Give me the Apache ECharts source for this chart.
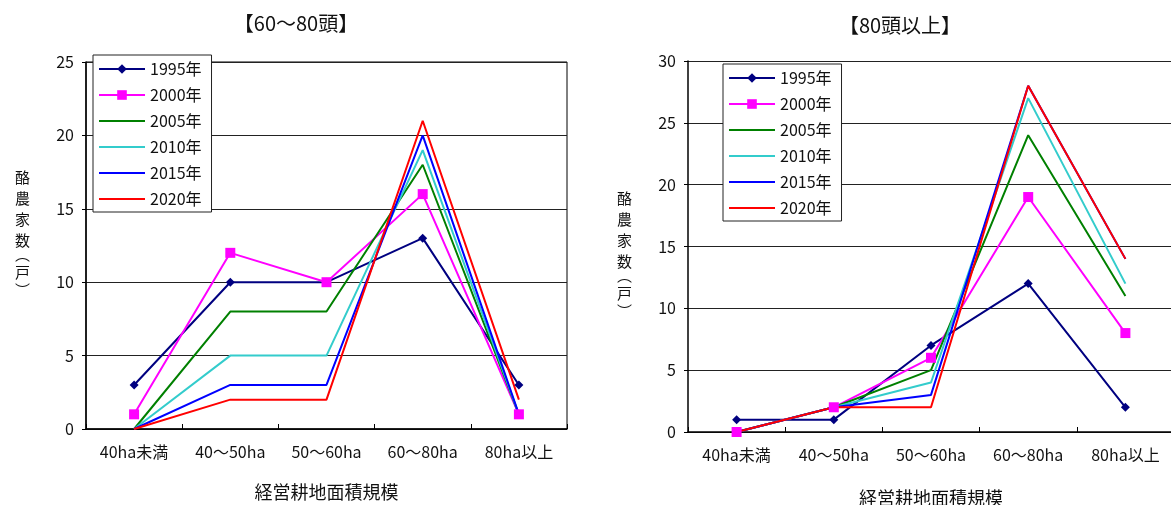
<!DOCTYPE html>
<html>
<head>
<meta charset="utf-8">
<script src="https://cdn.jsdelivr.net/npm/echarts@6/dist/echarts.min.js"></script>
<style>
  html, body { margin: 0; padding: 0; background: #fff; }
  #chart { width: 1171px; height: 505px; }
</style>
</head>
<body>
<div id="chart"></div>
<script>
// 経営耕地面積規模（横軸のカテゴリ）
const categories = ['40ha未満', '40～50ha', '50～60ha', '60～80ha', '80ha以上'];
const years = ['1995年', '2000年', '2005年', '2010年', '2015年', '2020年'];

// 【60～80頭】 酪農家数（戸）
const herd60_1995 = [3, 10, 10, 13, 3];
const herd60_2000 = [1, 12, 10, 16, 1];
const herd60_2005 = [0, 8, 8, 18, 1];
const herd60_2010 = [0, 5, 5, 19, 1];
const herd60_2015 = [0, 3, 3, 20, 1];
const herd60_2020 = [0, 2, 2, 21, 2];

// 【80頭以上】 酪農家数（戸）
const herd80_1995 = [1, 1, 7, 12, 2];
const herd80_2000 = [0, 2, 6, 19, 8];
const herd80_2005 = [0, 2, 5, 24, 11];
const herd80_2010 = [0, 2, 4, 27, 12];
const herd80_2015 = [0, 2, 3, 28, 14];
const herd80_2020 = [0, 2, 2, 28, 14];

const leftTicks = [0, 5, 10, 15, 20, 25];
const rightTicks = [0, 5, 10, 15, 20, 25, 30];

const FONT = '"Noto Sans CJK JP", "Noto Sans", sans-serif';
const colors = ['#000080', '#FF00FF', '#008000', '#33CCCC', '#0000FF', '#FF0000'];
const symbols = ['diamond', 'rect', 'none', 'none', 'none', 'none'];
const symbolSizes = [9, 10, 0, 0, 0, 0];

const leftData = [herd60_1995, herd60_2000, herd60_2005, herd60_2010, herd60_2015, herd60_2020];
const rightData = [herd80_1995, herd80_2000, herd80_2005, herd80_2010, herd80_2015, herd80_2020];

function makeSeries(dataSets, axisIndex) {
  return dataSets.map((d, i) => ({
    name: years[i],
    type: 'line',
    xAxisIndex: axisIndex,
    yAxisIndex: axisIndex,
    data: d,
    symbol: symbols[i],
    symbolSize: symbolSizes[i],
    showSymbol: symbols[i] !== 'none',
    lineStyle: { color: colors[i], width: 2 },
    itemStyle: { color: colors[i] },
    animation: false,
    emphasis: { disabled: true }
  }));
}

function xAxis(gridIndex, gap) {
  return {
    type: 'category',
    gridIndex: gridIndex,
    data: categories,
    boundaryGap: true,
    name: '経営耕地面積規模',
    nameLocation: 'middle',
    nameGap: gap,
    nameTextStyle: { fontFamily: FONT, fontSize: 18, color: '#111' },
    axisLine: { lineStyle: { color: '#000', width: 1.5 } },
    axisTick: { show: true, inside: true, length: 5, lineStyle: { color: '#000' } },
    axisLabel: { fontFamily: FONT, fontSize: 16, color: '#111', margin: 15 },
    splitLine: { show: false }
  };
}

// 縦書きの軸名（括弧は詰めて表示）
const yName = '{c|酪}\n{c|農}\n{c|家}\n{c|数}\n{p|︵}\n{c|戸}\n{q|︶}';

function yAxis(gridIndex, max, ticks, pad) {
  return {
    type: 'value',
    gridIndex: gridIndex,
    position: 'left',
    min: 0,
    max: max,
    interval: 5,
    name: yName,
    nameLocation: 'middle',
    nameRotate: 0,
    nameGap: 56,
    nameTextStyle: {
      fontFamily: FONT, fontSize: 15, color: '#111', padding: pad,
      rich: {
        c: { fontFamily: FONT, fontSize: 15, color: '#111', lineHeight: 21 },
        p: { fontFamily: FONT, fontSize: 15, color: '#111', lineHeight: 11, verticalAlign: 'bottom' },
        q: { fontFamily: FONT, fontSize: 15, color: '#111', lineHeight: 11, verticalAlign: 'top' }
      }
    },
    axisLine: { show: true, lineStyle: { color: '#000', width: 1.5 } },
    axisTick: { show: true, inside: false, length: 4, lineStyle: { color: '#000' } },
    axisLabel: {
      fontFamily: FONT, fontSize: 16, color: '#111', margin: 12,
      formatter: v => (ticks.indexOf(v) >= 0 ? String(v) : '')
    },
    splitLine: { show: true, lineStyle: { color: '#222', width: 1 } }
  };
}

// 凡例：マーカーのない系列は線のみ
const legendItems = years.map((y, i) => (
  symbols[i] === 'none' ? { name: y, itemStyle: { opacity: 0 } } : { name: y }
));

function legend(left, top) {
  return {
    data: legendItems,
    orient: 'vertical',
    left: left,
    top: top,
    padding: [6, 10, 5, 5],
    itemGap: 10,
    itemWidth: 46,
    itemHeight: 12,
    backgroundColor: '#fff',
    borderColor: '#222',
    borderWidth: 1,
    selectedMode: false,
    textStyle: { fontFamily: FONT, fontSize: 16, color: '#111' }
  };
}

const chart = echarts.init(document.getElementById('chart'), null, { renderer: 'canvas' });
chart.setOption({
  backgroundColor: '#fff',
  animation: false,
  title: [
    { text: '【60～80頭】', left: 291, top: 8, textAlign: 'center',
      textStyle: { fontFamily: FONT, fontSize: 20, fontWeight: 'normal', color: '#111' } },
    { text: '【80頭以上】', left: 895, top: 10, textAlign: 'center',
      textStyle: { fontFamily: FONT, fontSize: 20, fontWeight: 'normal', color: '#111' } }
  ],
  grid: [
    { left: 86, top: 62, width: 481, height: 367, show: true, borderColor: '#000', borderWidth: 1,
      backgroundColor: 'transparent', outerBoundsMode: 'none', containLabel: false },
    // 右側のプロット枠は画面の外まで続く
    { left: 688, top: 61, width: 486, height: 371, show: false,
      outerBoundsMode: 'none', containLabel: false }
  ],
  legend: [legend(93, 55), legend(723, 64)],
  xAxis: [xAxis(0, 54), xAxis(1, 57)],
  yAxis: [yAxis(0, 25, leftTicks, [0, 0, 30, 0]), yAxis(1, 30, rightTicks, [10, 0, 0, 0])],
  series: makeSeries(leftData, 0).concat(makeSeries(rightData, 1))
});
</script>
</body>
</html>
